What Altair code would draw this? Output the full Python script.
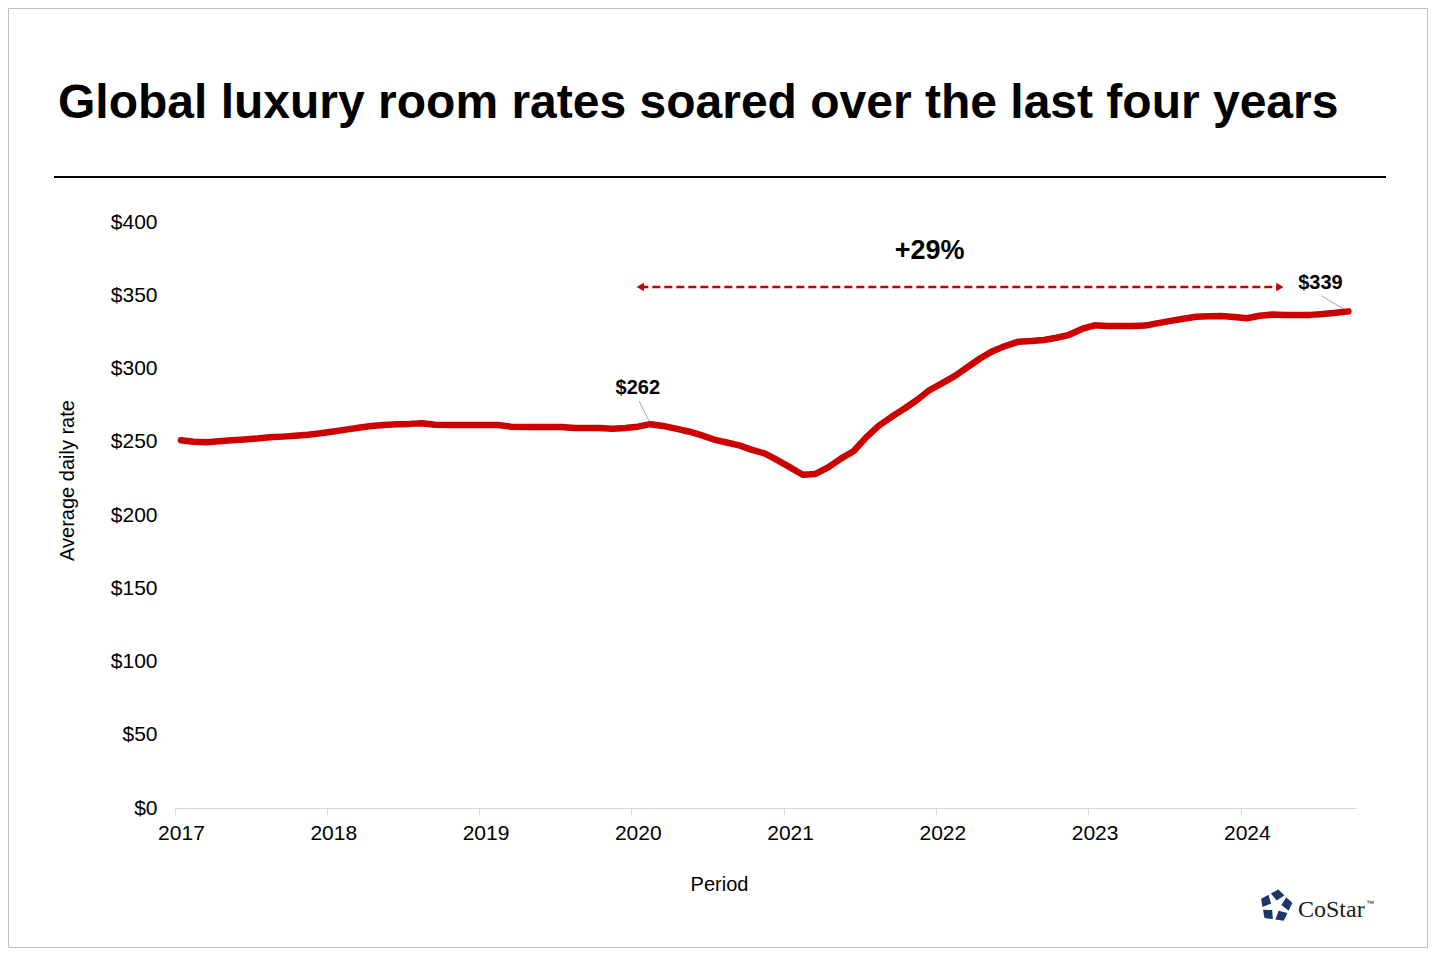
import numpy as np
import pandas as pd
import altair as alt

FONT = "Liberation Sans"
RED = "#cc0000"

# average daily rate, monthly, Jan 2017 - Sep 2024
adr = [
    251.0, 250.0, 249.7, 250.3, 251.0, 251.6, 252.2, 253.0, 253.5, 254.1, 254.8, 255.8,  # 2017
    257.0, 258.3, 259.6, 260.8, 261.5, 262.0, 262.2, 262.6, 261.6, 261.4, 261.4, 261.4,  # 2018
    261.4, 261.4, 260.3, 260.1, 260.1, 260.1, 260.0, 259.4, 259.4, 259.4, 258.9, 259.4,  # 2019
    260.3, 262.0, 260.8, 259.0, 257.0, 254.5, 251.5, 249.5, 247.5, 244.5, 242.0, 237.5,  # 2020
    232.5, 227.5, 228.0, 232.5, 238.5, 243.5, 253.0, 261.0, 267.0, 272.5, 278.5, 285.3,  # 2021
    290.0, 295.0, 301.0, 307.0, 312.0, 315.5, 318.3, 318.8, 319.5, 321.0, 323.0, 327.0,  # 2022
    329.5, 329.0, 329.0, 329.0, 329.3, 331.0, 332.5, 334.0, 335.3, 335.7, 335.8, 335.2,  # 2023
    334.3, 336.0, 336.8, 336.5, 336.5, 336.6, 337.2, 338.0, 339.0,  # 2024
]
year_ticks = [0, 12, 24, 36, 48, 60, 72, 84]  # month index of each January

# annotations (month index, value)
label_m = [36.0, 89.8]
label_v = [286.7, 358.4]
label_txt = ["$262", "$339"]
leader_m = [[37.0, 36.1], [91.9, 89.9]]
leader_v = [[262.0, 277.8], [339.2, 349.5]]
arrow_m = [36.2, 86.6]
arrow_v = 355.6
pct_m, pct_v, pct_txt = 59.0, 380.2, "+29%"

df = pd.DataFrame({"m": range(len(adr)), "adr": adr})

x = alt.X("m:Q",
          scale=alt.Scale(domain=[-0.55, 92.6], nice=False, zero=False),
          axis=alt.Axis(values=year_ticks, labelExpr="'' + (2017 + datum.value / 12)",
                        grid=False, domainColor="#d9d9d9", tickColor="#d9d9d9",
                        tickSize=7, tickOffset=-6.3, labelOffset=6.3,
                        labelFont=FONT, labelFontSize=21, labelColor="black", labelPadding=7,
                        title="Period", titleFont=FONT, titleFontSize=20,
                        titleFontWeight="normal", titleColor="black",
                        titleX=545, titleY=76, titleBaseline="middle"))
y = alt.Y("adr:Q",
          scale=alt.Scale(domain=[0, 400], nice=False),
          axis=alt.Axis(values=list(range(0, 401, 50)), labelExpr="'$' + datum.value",
                        grid=False, domain=False, ticks=False,
                        labelFont=FONT, labelFontSize=21, labelColor="black", labelPadding=17,
                        title="Average daily rate", titleFont=FONT, titleFontSize=20,
                        titleFontWeight="normal", titleColor="black",
                        titleX=-107, titleY=258, titleBaseline="middle"))

line = alt.Chart(df).mark_line(color=RED, strokeWidth=6.5, strokeCap="round",
                               strokeJoin="round").encode(x=x, y=y)

arrow_df = pd.DataFrame({"m": arrow_m, "adr": [arrow_v, arrow_v],
                         "shape": ["triangle-left", "triangle-right"]})
arrow = alt.Chart(arrow_df).mark_line(color="#c00000", strokeWidth=2.5,
                                      strokeDash=[8, 4]).encode(x="m:Q", y="adr:Q")
heads = alt.Chart(arrow_df).mark_point(filled=True, color="#c00000", size=70,
                                       opacity=1).encode(
    x="m:Q", y="adr:Q", shape=alt.Shape("shape:N", scale=None))

lead_rows = []
for i, (ms, vs) in enumerate(zip(leader_m, leader_v)):
    for mm, vv in zip(ms, vs):
        lead_rows.append({"id": i, "m": mm, "adr": vv})
leaders = alt.Chart(pd.DataFrame(lead_rows)).mark_line(color="#a6a6a6", strokeWidth=1).encode(
    x="m:Q", y="adr:Q", detail="id:N")

labels = alt.Chart(pd.DataFrame({"m": label_m, "adr": label_v, "t": label_txt})).mark_text(
    font=FONT, fontSize=20, fontWeight="bold", color="black").encode(
    x="m:Q", y="adr:Q", text="t:N")

pct = alt.Chart(pd.DataFrame({"m": [pct_m], "adr": [pct_v], "t": [pct_txt]})).mark_text(
    font=FONT, fontSize=27, fontWeight="bold", color="black").encode(
    x="m:Q", y="adr:Q", text="t:N")

one = alt.Data(values=[{}])
title = alt.Chart(one).mark_text(
    text="Global luxury room rates soared over the last four years",
    font=FONT, fontSize=48, fontWeight="bold", color="black",
    align="left", baseline="alphabetic").encode(x=alt.value(-116), y=alt.value(-104))
underline = alt.Chart(one).mark_rule(color="black", strokeWidth=2).encode(
    x=alt.value(-120), x2=alt.value(1212), y=alt.value(-45))
frame = alt.Chart(one).mark_rect(fillOpacity=0, stroke="#bfbfbf", strokeWidth=1).encode(
    x=alt.value(-165.5), x2=alt.value(1253.5), y=alt.value(-213.5), y2=alt.value(725.5))


# CoStar logo: navy pentagon with a white star cut through it
def path(pts):
    return "M" + "L".join(f"{a:.3f},{b:.3f}" for a, b in pts) + "Z"


rot = np.deg2rad(-90 + 8)
outer = [(np.cos(rot + k * 2 * np.pi / 5), np.sin(rot + k * 2 * np.pi / 5)) for k in range(5)]
star = []
for k in range(5):
    a = rot + k * 2 * np.pi / 5
    star.append((0.33 * np.cos(a), 0.33 * np.sin(a)))
    star.append((1.2 * np.cos(a + np.pi / 5), 1.2 * np.sin(a + np.pi / 5)))

logo_pent = alt.Chart(one).mark_point(shape=path(outer), filled=True, color="#1b3668",
                                      size=1100, opacity=1).encode(
    x=alt.value(1102), y=alt.value(684))
logo_star = alt.Chart(one).mark_point(shape=path(star), filled=True, color="white",
                                      size=1100, opacity=1).encode(
    x=alt.value(1102), y=alt.value(684))
logo_txt = alt.Chart(one).mark_text(text="CoStar", font="Liberation Serif", fontSize=24,
                                    color="#1a1a1a", align="left", baseline="alphabetic").encode(
    x=alt.value(1124), y=alt.value(695))
logo_tm = alt.Chart(one).mark_text(text="™", font=FONT, fontSize=8, color="#1a1a1a",
                                   align="left", baseline="middle").encode(
    x=alt.value(1192), y=alt.value(682))

chart = alt.layer(
    frame, title, underline, arrow, heads, leaders, line, labels, pct,
    logo_pent, logo_star, logo_txt, logo_tm
).properties(
    width=1182, height=586,
    autosize=alt.AutoSizeParams(type="none"),
    padding={"left": 166, "top": 214, "right": 72, "bottom": 140},
    background="white",
).configure_view(strokeWidth=0)

chart.save("out.html", embed_options={"renderer": "svg", "actions": False})
